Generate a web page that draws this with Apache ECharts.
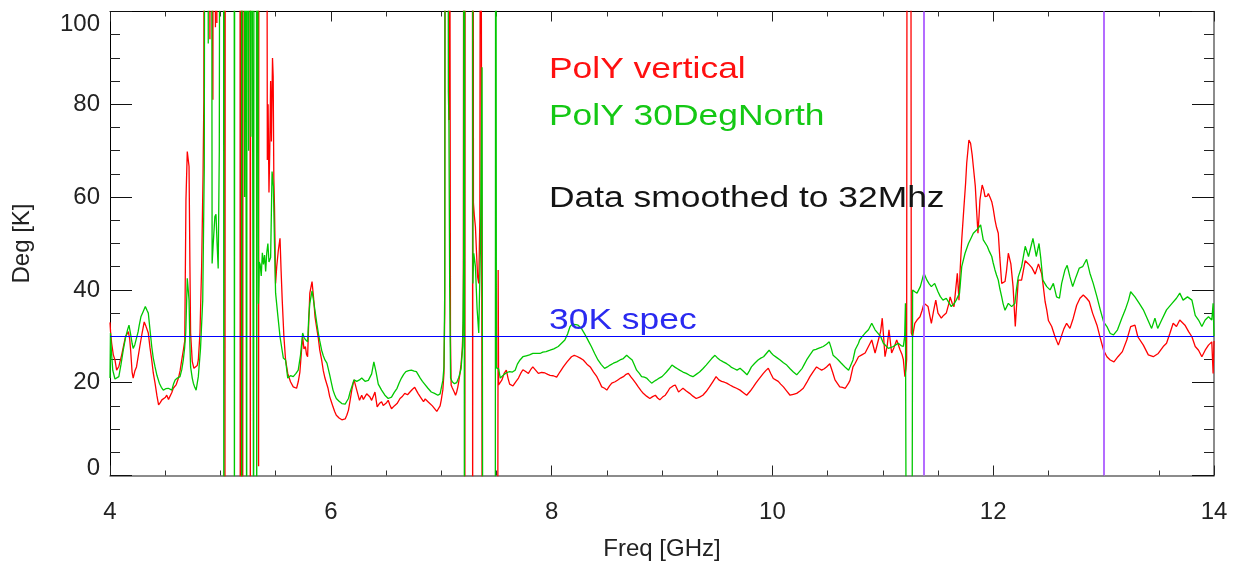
<!DOCTYPE html>
<html><head><meta charset="utf-8">
<script src="https://cdn.jsdelivr.net/npm/echarts@6/dist/echarts.min.js"></script>
<style>html,body{margin:0;padding:0;background:#fff}#c{width:1246px;height:567px}</style>
</head><body><div id="c"></div>
<script>
// ---- data (values > 100 or < 0 are off-scale excursions, clipped by the axes) ----
const redFreq = [4.000,4.005,4.015,4.03,4.045,4.06,4.08,4.106,4.125,4.14,4.166,4.178,4.187,4.2,4.21,4.225,4.24,4.255,4.27,4.29,4.31,4.325,4.347,4.362,4.378,4.392,4.408,4.425,4.44,4.455,4.47,4.483,4.5,4.514,4.53,4.543,4.56,4.573,4.6,4.62,4.635,4.65,4.665,4.677,4.688,4.7,4.716,4.724,4.73,4.745,4.76,4.775,4.79,4.8,4.815,4.83,4.843,4.85,4.856,4.9,4.905,4.912,4.928,4.932,4.937,4.95,4.955,4.96,4.968,4.974,5.037,5.041,5.045,5.177,5.18,5.184,5.188,5.192,5.195,5.199,5.202,5.206,5.267,5.271,5.275,5.342,5.346,5.35,5.418,5.425,5.432,5.44,5.447,5.455,5.462,5.472,5.478,5.484,5.49,5.5,5.51,5.525,5.54,5.55,5.56,5.575,5.59,5.61,5.635,5.66,5.69,5.705,5.72,5.735,5.745,5.757,5.77,5.78,5.79,5.8,5.81,5.83,5.845,5.857,5.872,5.887,5.9,5.917,5.932,5.947,5.96,5.975,5.99,6.005,6.02,6.035,6.05,6.075,6.1,6.115,6.13,6.145,6.16,6.175,6.19,6.21,6.222,6.235,6.26,6.28,6.295,6.31,6.325,6.34,6.355,6.37,6.385,6.4,6.42,6.44,6.46,6.475,6.49,6.505,6.52,6.535,6.55,6.575,6.6,6.627,6.65,6.67,6.695,6.717,6.74,6.76,6.79,6.815,6.84,6.855,6.87,6.885,6.9,6.92,6.94,6.96,6.974,6.99,7.0,7.015,7.025,7.032,7.038,7.066,7.07,7.074,7.08,7.084,7.09,7.1,7.11,7.12,7.13,7.14,7.15,7.16,7.17,7.18,7.19,7.2,7.206,7.211,7.214,7.218,7.282,7.285,7.288,7.292,7.3,7.31,7.32,7.33,7.34,7.35,7.358,7.366,7.371,7.512,7.516,7.52,7.533,7.55,7.57,7.59,7.605,7.62,7.65,7.675,7.7,7.72,7.74,7.765,7.79,7.81,7.83,7.855,7.88,7.91,7.94,7.965,7.986,8.015,8.046,8.075,8.106,8.14,8.18,8.205,8.227,8.26,8.287,8.32,8.35,8.38,8.41,8.435,8.454,8.48,8.5,8.525,8.545,8.575,8.6,8.625,8.65,8.675,8.695,8.72,8.74,8.765,8.785,8.81,8.83,8.86,8.89,8.915,8.94,8.96,8.98,9.005,9.03,9.05,9.07,9.1,9.12,9.15,9.17,9.19,9.22,9.25,9.28,9.31,9.34,9.37,9.4,9.43,9.46,9.49,9.515,9.54,9.565,9.586,9.615,9.646,9.675,9.707,9.74,9.767,9.8,9.827,9.85,9.872,9.895,9.918,9.94,9.963,9.985,10.008,10.03,10.053,10.075,10.1,10.13,10.16,10.19,10.22,10.25,10.28,10.31,10.34,10.37,10.4,10.425,10.446,10.47,10.49,10.52,10.545,10.567,10.59,10.61,10.635,10.66,10.69,10.703,10.73,10.75,10.78,10.79,10.81,10.84,10.87,10.9,10.93,10.96,10.98,10.995,11.01,11.02,11.04,11.056,11.08,11.1,11.126,11.156,11.175,11.186,11.2,11.21,11.216,11.222,11.252,11.258,11.27,11.29,11.31,11.337,11.355,11.373,11.39,11.41,11.425,11.44,11.46,11.48,11.5,11.53,11.55,11.575,11.6,11.61,11.63,11.645,11.66,11.675,11.69,11.7,11.715,11.735,11.75,11.76,11.78,11.795,11.81,11.82,11.838,11.85,11.862,11.872,11.88,11.9,11.915,11.926,11.945,11.956,11.97,11.987,12.0,12.016,12.03,12.046,12.06,12.077,12.09,12.107,12.12,12.137,12.16,12.18,12.2,12.21,12.227,12.257,12.29,12.32,12.35,12.38,12.41,12.44,12.455,12.47,12.485,12.5,12.53,12.56,12.59,12.62,12.64,12.665,12.695,12.725,12.756,12.786,12.816,12.846,12.87,12.9,12.94,12.97,13.0,13.03,13.06,13.094,13.13,13.17,13.21,13.245,13.284,13.31,13.36,13.405,13.45,13.495,13.54,13.57,13.6,13.63,13.66,13.69,13.737,13.77,13.8,13.83,13.86,13.89,13.92,13.95,13.98,13.992,14.0];
const redDeg = [33,31,28.5,26,24.9,22.7,23.5,26,28.2,29.9,31,29.5,27,22.3,21,22.5,23.4,25.6,27.8,30.6,33.1,32.2,30.7,27.6,24.9,22.1,19.9,17.2,15.2,15.7,16.3,15.9,16.8,17.3,16.4,16.6,17.9,18.8,19.6,21,22.6,24.9,27.1,29,59.4,69.8,66.6,45,30.7,24.6,23.1,22.7,23.7,24.9,30.7,45,65,80.9,200,200,94,200,200,81,200,200,96.6,200,97.5,200,200,-20,200,200,-20,200,-20,39,-20,200,-20,200,200,-20,200,200,2,200,200,68,80,61,70,85,72,90,86,64,57.9,41.4,45,48.6,51.1,44,37.8,30,25,22,20.2,19.1,18.8,20.2,22.3,27,29.9,27.3,27.8,26.1,25.6,33,39.3,41.8,38,34.2,31.8,29.6,27,24.9,22.6,21,20.6,18.8,17,15.9,14.8,13.8,13,12.4,12,12.4,12.2,13,14.1,16.2,18.4,20.6,19.6,18.4,16.2,17.3,16.4,16.6,17.6,17.7,16.9,16.2,17.1,18,14.8,15.5,15.9,15.1,14.8,15.7,16.2,15.2,14.4,15,15.5,16.6,17.1,17.7,17.4,18,18.6,19,17.7,16.8,15.9,16.5,16.6,15.8,15.5,15,14.4,13.8,13.4,15,16.2,18.5,22,35,200,200,76.6,200,200,30,19.5,18.9,18.7,17.9,17.3,18,19,20.4,22,24,27,33,200,200,-20,200,200,-20,200,58.7,56,53.6,48,42.8,41.4,55,200,200,-20,-20,44.3,19.5,19.9,20.6,22,22.7,21,19.7,19.3,20.2,21,22,22.8,22.4,22,22.8,23.4,22.7,22,22.2,22.1,21.8,21.6,21.5,21.2,22.3,23.4,24.5,25.6,25.9,25.7,25.3,24.9,24,23.4,22.3,21.3,20.1,19.1,18.8,18.4,19.3,19.9,20.2,20.6,21,21.3,21.8,22,21.2,20.6,19.8,19.1,18.3,17.7,17.1,16.6,17,17.3,16.7,16.3,16.9,17.3,18,18.8,19.3,19.5,18,18.4,18.8,18.2,17.7,17.1,16.6,16.9,17.3,18.1,19.1,20.2,21.3,20.6,20.3,20.1,19.9,19.5,19.1,18.8,18.4,17.8,17.3,18.2,19.1,19.9,20.6,21.3,22,22.6,23.1,22,20.9,20.6,20.3,19.7,19.1,18.2,17.3,17.5,17.7,18.2,18.8,20,21.3,22.4,23.4,23,22.7,23,23.4,24.1,22.3,20.6,19.8,19.1,19,18.8,19.9,20.5,23.4,24.2,25.6,25.4,26,26.4,27.8,29.2,26.4,29.2,31,33.9,29,25.6,28,31.4,26.4,27.5,29.2,27.1,26,25,21.3,23,25,200,200,30.7,30,32.8,33.5,34.2,35.5,37.1,36.8,36.4,34.5,32.8,35.5,37.8,35,33.9,34.5,35,37.2,38.5,37,36.4,40,43.6,37.8,44,50.8,57.9,63,67.3,72.3,71.6,69,66.6,62.3,57,52.2,56,59.4,62.6,61.5,60.1,60.2,60.8,60,59,57.5,55.1,53.5,52.2,47,41.4,41.2,41.8,44,47.9,45.6,40.7,32.1,36,42.1,42.1,46.3,45.6,44.8,43.4,45.6,43.4,40.5,37.5,35.7,33.4,32.1,29.9,28.1,30.2,31.6,32.8,31.7,33.9,36.7,38.2,38.9,38.2,37.5,35,32.4,29.6,27,25.6,24.9,24.5,25.6,26.7,29.2,32.1,32.4,29.9,28.1,26,25.6,26.3,27.8,28.5,30.6,32.8,32.1,33.5,32.4,31,29.9,27.8,27,25.6,27,28.1,28.8,22,29];

const greenFreq = [4.0,4.004,4.012,4.025,4.045,4.06,4.08,4.1,4.12,4.14,4.16,4.172,4.185,4.2,4.21,4.225,4.24,4.255,4.265,4.28,4.3,4.32,4.335,4.347,4.362,4.378,4.392,4.408,4.425,4.447,4.465,4.483,4.505,4.528,4.545,4.56,4.575,4.59,4.61,4.634,4.65,4.664,4.676,4.686,4.7,4.716,4.724,4.73,4.745,4.755,4.768,4.78,4.8,4.82,4.84,4.854,4.862,4.885,4.89,4.895,4.918,4.925,4.935,4.95,4.96,4.97,4.98,4.99,4.998,5.028,5.031,5.034,5.124,5.127,5.13,5.19,5.193,5.196,5.215,5.219,5.223,5.234,5.238,5.242,5.252,5.256,5.26,5.272,5.276,5.28,5.297,5.301,5.305,5.325,5.329,5.333,5.34,5.345,5.352,5.36,5.37,5.38,5.39,5.4,5.41,5.42,5.43,5.44,5.455,5.468,5.48,5.49,5.5,5.52,5.54,5.57,5.59,5.61,5.635,5.66,5.685,5.705,5.726,5.745,5.757,5.77,5.79,5.8,5.81,5.83,5.845,5.857,5.872,5.887,5.9,5.917,5.932,5.947,5.965,5.98,5.99,6.005,6.02,6.035,6.05,6.075,6.1,6.115,6.13,6.145,6.16,6.175,6.19,6.21,6.235,6.26,6.28,6.31,6.34,6.37,6.39,6.41,6.43,6.46,6.49,6.52,6.55,6.575,6.6,6.62,6.64,6.66,6.68,6.705,6.73,6.755,6.775,6.79,6.81,6.83,6.85,6.865,6.88,6.91,6.94,6.97,6.99,7.0,7.015,7.025,7.032,7.037,7.06,7.065,7.07,7.077,7.085,7.1,7.12,7.14,7.16,7.18,7.195,7.203,7.207,7.21,7.214,7.283,7.287,7.295,7.31,7.325,7.34,7.355,7.37,7.376,7.49,7.494,7.5,7.52,7.535,7.55,7.57,7.595,7.62,7.645,7.67,7.69,7.714,7.74,7.77,7.8,7.83,7.86,7.895,7.92,7.95,7.986,8.02,8.06,8.09,8.12,8.145,8.167,8.185,8.2,8.22,8.24,8.255,8.27,8.295,8.32,8.34,8.36,8.39,8.42,8.45,8.48,8.505,8.53,8.56,8.59,8.62,8.65,8.68,8.705,8.73,8.75,8.77,8.795,8.815,8.84,8.86,8.885,8.906,8.93,8.95,8.975,9.0,9.02,9.04,9.065,9.09,9.12,9.14,9.16,9.19,9.22,9.25,9.28,9.31,9.34,9.37,9.4,9.425,9.45,9.48,9.5,9.525,9.555,9.586,9.61,9.63,9.655,9.68,9.707,9.74,9.77,9.79,9.81,9.84,9.87,9.895,9.92,9.945,9.97,9.99,10.01,10.04,10.07,10.1,10.13,10.16,10.19,10.22,10.245,10.27,10.29,10.31,10.34,10.37,10.395,10.416,10.44,10.46,10.49,10.515,10.535,10.55,10.575,10.597,10.62,10.64,10.665,10.69,10.703,10.73,10.75,10.78,10.79,10.815,10.84,10.87,10.9,10.93,10.955,10.98,11.005,11.03,11.05,11.075,11.095,11.12,11.14,11.165,11.186,11.198,11.205,11.212,11.265,11.27,11.29,11.31,11.34,11.36,11.373,11.4,11.42,11.44,11.47,11.5,11.52,11.545,11.575,11.6,11.62,11.645,11.665,11.695,11.715,11.745,11.776,11.8,11.82,11.85,11.87,11.886,11.91,11.946,11.965,11.987,12.0,12.016,12.03,12.046,12.06,12.077,12.09,12.107,12.137,12.167,12.196,12.21,12.227,12.257,12.29,12.32,12.36,12.39,12.415,12.43,12.45,12.485,12.515,12.545,12.574,12.6,12.62,12.65,12.67,12.695,12.72,12.75,12.78,12.81,12.846,12.876,12.906,12.94,12.97,13.0,13.03,13.06,13.09,13.126,13.165,13.196,13.226,13.245,13.284,13.323,13.36,13.394,13.435,13.465,13.49,13.526,13.57,13.62,13.66,13.69,13.72,13.76,13.8,13.83,13.86,13.89,13.92,13.95,13.98,13.992,14.0];
const greenDeg = [21,30.7,27,22.7,20.8,20.6,21.3,24,27,29.6,31.5,32.4,30.7,28.5,27.4,28.2,28.5,31,32.4,34.2,35.3,36.4,35.6,35,31.5,27.8,25.3,23.4,21.6,19.9,19,18.4,18.7,18.8,18.4,18.4,19.7,20.6,21,21.3,22.8,24.9,27.5,30.7,42.5,37.8,28,23.4,21,19.9,19,18.4,21.3,27.4,37.8,66.6,200,200,93.1,200,200,45.7,50,55.8,56.3,50,44.6,70,200,200,-20,200,200,-20,200,200,-20,200,200,60,200,200,-20,200,200,70,200,200,73,200,200,-20,200,200,-20,200,200,37,46,45.5,43,48,45.5,47.5,44,48,50,46,47,65.5,62.3,50,39.3,34.5,29.9,25.3,24.9,21,21.5,21.3,22,22.7,26,30.7,29.8,29.3,28.8,34,37.1,39.8,37.5,35.5,33,30.7,29,27,25.8,24.9,24.2,23.8,21.7,20,18.4,17.4,16.6,16,15.5,15.6,15.4,16,16.6,18,19.1,20.6,20.3,20.6,21,20.3,20.5,21.9,24.5,22.3,19.7,18.4,17.3,16.6,16.9,17.9,18.8,20,21,21.8,22.4,22.6,22.7,22.5,22.4,21.8,21,20.3,19.7,19.3,18.8,18,17.7,17.3,17.6,18,20.5,23.4,40,200,200,82.7,76,40,21,20.2,19.8,20,21.2,23,28,45,200,-20,200,200,41.4,47.9,45,36,30.7,48.5,88,-20,-20,200,23.2,23,21,21.2,21.8,22.2,22.4,22.3,22.7,24,24.9,25.6,25.8,26,26.3,26.3,26.3,26.6,26.7,27,27.3,27.8,28.5,29.2,30.5,32.1,32.6,32.8,32.5,32.4,32,31.7,30.7,29.6,28.7,27.8,26.3,24.9,23.9,23.1,23.4,23.8,24.2,24.5,24.9,25.2,25.9,25.4,24.9,23.8,22.7,22,21.3,21.2,21,20.4,19.9,20.3,20.6,21,21.3,21.8,22.3,23,23.8,23.3,23,22.7,22.3,22,21.6,21.3,21.8,22.3,23,23.8,24.5,25.2,25.9,25.4,24.9,24.5,24.1,23.7,23.3,23,22.7,23.1,22.4,21.7,22.5,23.4,24.2,24.9,25.3,25.6,26.3,27,26.4,25.9,25.4,24.9,24.3,23.8,23,22.3,21.7,22.4,23.1,24,24.9,26,27,27.2,27.4,27.6,27.8,28.3,28.8,27.3,25.9,25.4,24.9,24.3,23.8,23.2,22.7,23.4,24.9,27.1,28.5,29.2,30,30.7,31.4,32.8,31.4,30.7,30,28.5,27.9,27.4,27.6,27.8,28.2,28.5,28,27.8,30,37.1,-20,-20,40,39.6,39.3,40.7,42.5,43.6,42.1,41.3,40.7,41.4,39.6,38.6,37.8,38.2,37.2,36.4,37,37.8,39.3,45,47.9,50,51.2,52.2,52.9,53.5,54,50.8,49.4,48.3,47.2,45.8,44.3,43.2,42.1,40.3,38.5,37,35.6,37.1,36.4,37.1,40,42.8,45,49.4,47.2,51.1,47.2,50,47,42.1,40.7,40,41.4,38.5,38.2,41.4,44.3,45.3,42.8,40.7,42.8,44.7,45,46.6,43.6,41.4,38.5,35.7,33.1,32.1,30.6,30.3,31.4,33.9,35.7,37.8,39.6,38.5,37.1,35.7,33.9,31.7,33.9,31.7,33.5,35.7,37.1,38.2,39.3,37.8,38.5,37.8,34.5,33.5,32.1,33.5,34.2,33.5,37.1,30];

const specLevel = 30;            // horizontal "30K spec" line
const flagFreqs = [11.37, 13.0]; // purple vertical markers
const xRange = [4, 14], xStep = 2;
const yRange = [0, 100], yStep = 20;
const notes = [
  {text: 'PolY vertical', color: '#ff1010', y: 70},
  {text: 'PolY 30DegNorth', color: '#14c814', y: 117},
  {text: 'Data smoothed to 32Mhz', color: '#141414', y: 199},
  {text: '30K spec', color: '#2a2af0', y: 321}
];

const zip = (xs, ys) => xs.map((x, i) => [x, ys[i]]);
const FONT = '"Liberation Sans", Arial, Helvetica, sans-serif';

const chart = echarts.init(document.getElementById('c'), null, {renderer: 'canvas'});

function xAxisCfg(pos, showLabel, lineColor, lineWidth) {
  return {
    type: 'value', position: pos, min: xRange[0], max: xRange[1], interval: xStep,
    axisLine: {show: true, onZero: false, lineStyle: {color: lineColor, width: lineWidth}},
    axisTick: {show: true, inside: true, length: 10, lineStyle: {color: '#222', width: 1}},
    minorTick: {show: true, splitNumber: 4, length: 5, lineStyle: {color: '#333', width: 1}},
    splitLine: {show: false},
    axisLabel: {show: showLabel, fontSize: 24, color: '#222', margin: 25, fontFamily: FONT},
    name: showLabel ? 'Freq [GHz]' : '',
    nameLocation: 'middle', nameGap: 62,
    nameTextStyle: {fontSize: 24, color: '#222', fontFamily: FONT}
  };
}
function yAxisCfg(pos, showLabel, lineColor, lineWidth) {
  return {
    type: 'value', position: pos, min: yRange[0], max: yRange[1], interval: yStep,
    axisLine: {show: true, onZero: false, lineStyle: {color: lineColor, width: lineWidth}},
    axisTick: {show: true, inside: true, length: 22, lineStyle: {color: '#111', width: 1}},
    minorTick: {show: true, splitNumber: 4, length: 10, lineStyle: {color: '#222', width: 1}},
    splitLine: {show: false},
    axisLabel: {
      show: showLabel, fontSize: 24, color: '#222', margin: 10, fontFamily: FONT,
      formatter: v => v === yRange[1] ? '{t|' + v + '}' : (v === yRange[0] ? '{b|' + v + '}' : String(v)),
      rich: {
        t: {fontSize: 24, color: '#222', fontFamily: FONT, padding: [25, 0, 0, 0]},
        b: {fontSize: 24, color: '#222', fontFamily: FONT, padding: [0, 0, 15, 0]}
      }
    },
    name: showLabel ? 'Deg [K]' : '',
    nameLocation: 'middle', nameGap: 76,
    nameTextStyle: {fontSize: 24, color: '#222', fontFamily: FONT}
  };
}

const option = {
  backgroundColor: '#ffffff',
  animation: false,
  grid: {left: 110, right: 32, top: 11.5, bottom: 91.5, containLabel: false, outerBoundsMode: 'none'},
  xAxis: [xAxisCfg('bottom', true, '#666', 1.5), xAxisCfg('top', false, '#000', 1)],
  yAxis: [yAxisCfg('left', true, '#000', 1), yAxisCfg('right', false, '#666', 1.5)],
  series: [
    {
      name: 'PolY vertical', type: 'line', xAxisIndex: 0, yAxisIndex: 0,
      data: zip(redFreq, redDeg), showSymbol: false, symbol: 'none', clip: true,
      lineStyle: {color: '#ff0000', width: 1.3}, z: 2
    },
    {
      name: 'PolY 30DegNorth', type: 'line', xAxisIndex: 0, yAxisIndex: 0,
      data: zip(greenFreq, greenDeg), showSymbol: false, symbol: 'none', clip: true,
      lineStyle: {color: '#00c800', width: 1.3}, z: 3,
      markLine: {
        silent: true, symbol: ['none', 'none'], animation: false, label: {show: false},
        data: [
          {yAxis: specLevel, lineStyle: {color: '#0000ff', width: 1.2, type: 'solid'}}
        ].concat(flagFreqs.map(f => ({xAxis: f, lineStyle: {color: '#b46cff', width: 2, type: 'solid'}})))
      }
    }
  ],
  graphic: notes.map(n => ({
    type: 'text', x: 549, y: n.y, scaleX: 1.18, z: 100, silent: true,
    style: {
      text: n.text, fill: n.color, fontSize: 30, fontFamily: FONT,
      align: 'left', verticalAlign: 'middle', textAlign: 'left', textVerticalAlign: 'middle'
    }
  }))
};
chart.setOption(option);
</script>
</body></html>
